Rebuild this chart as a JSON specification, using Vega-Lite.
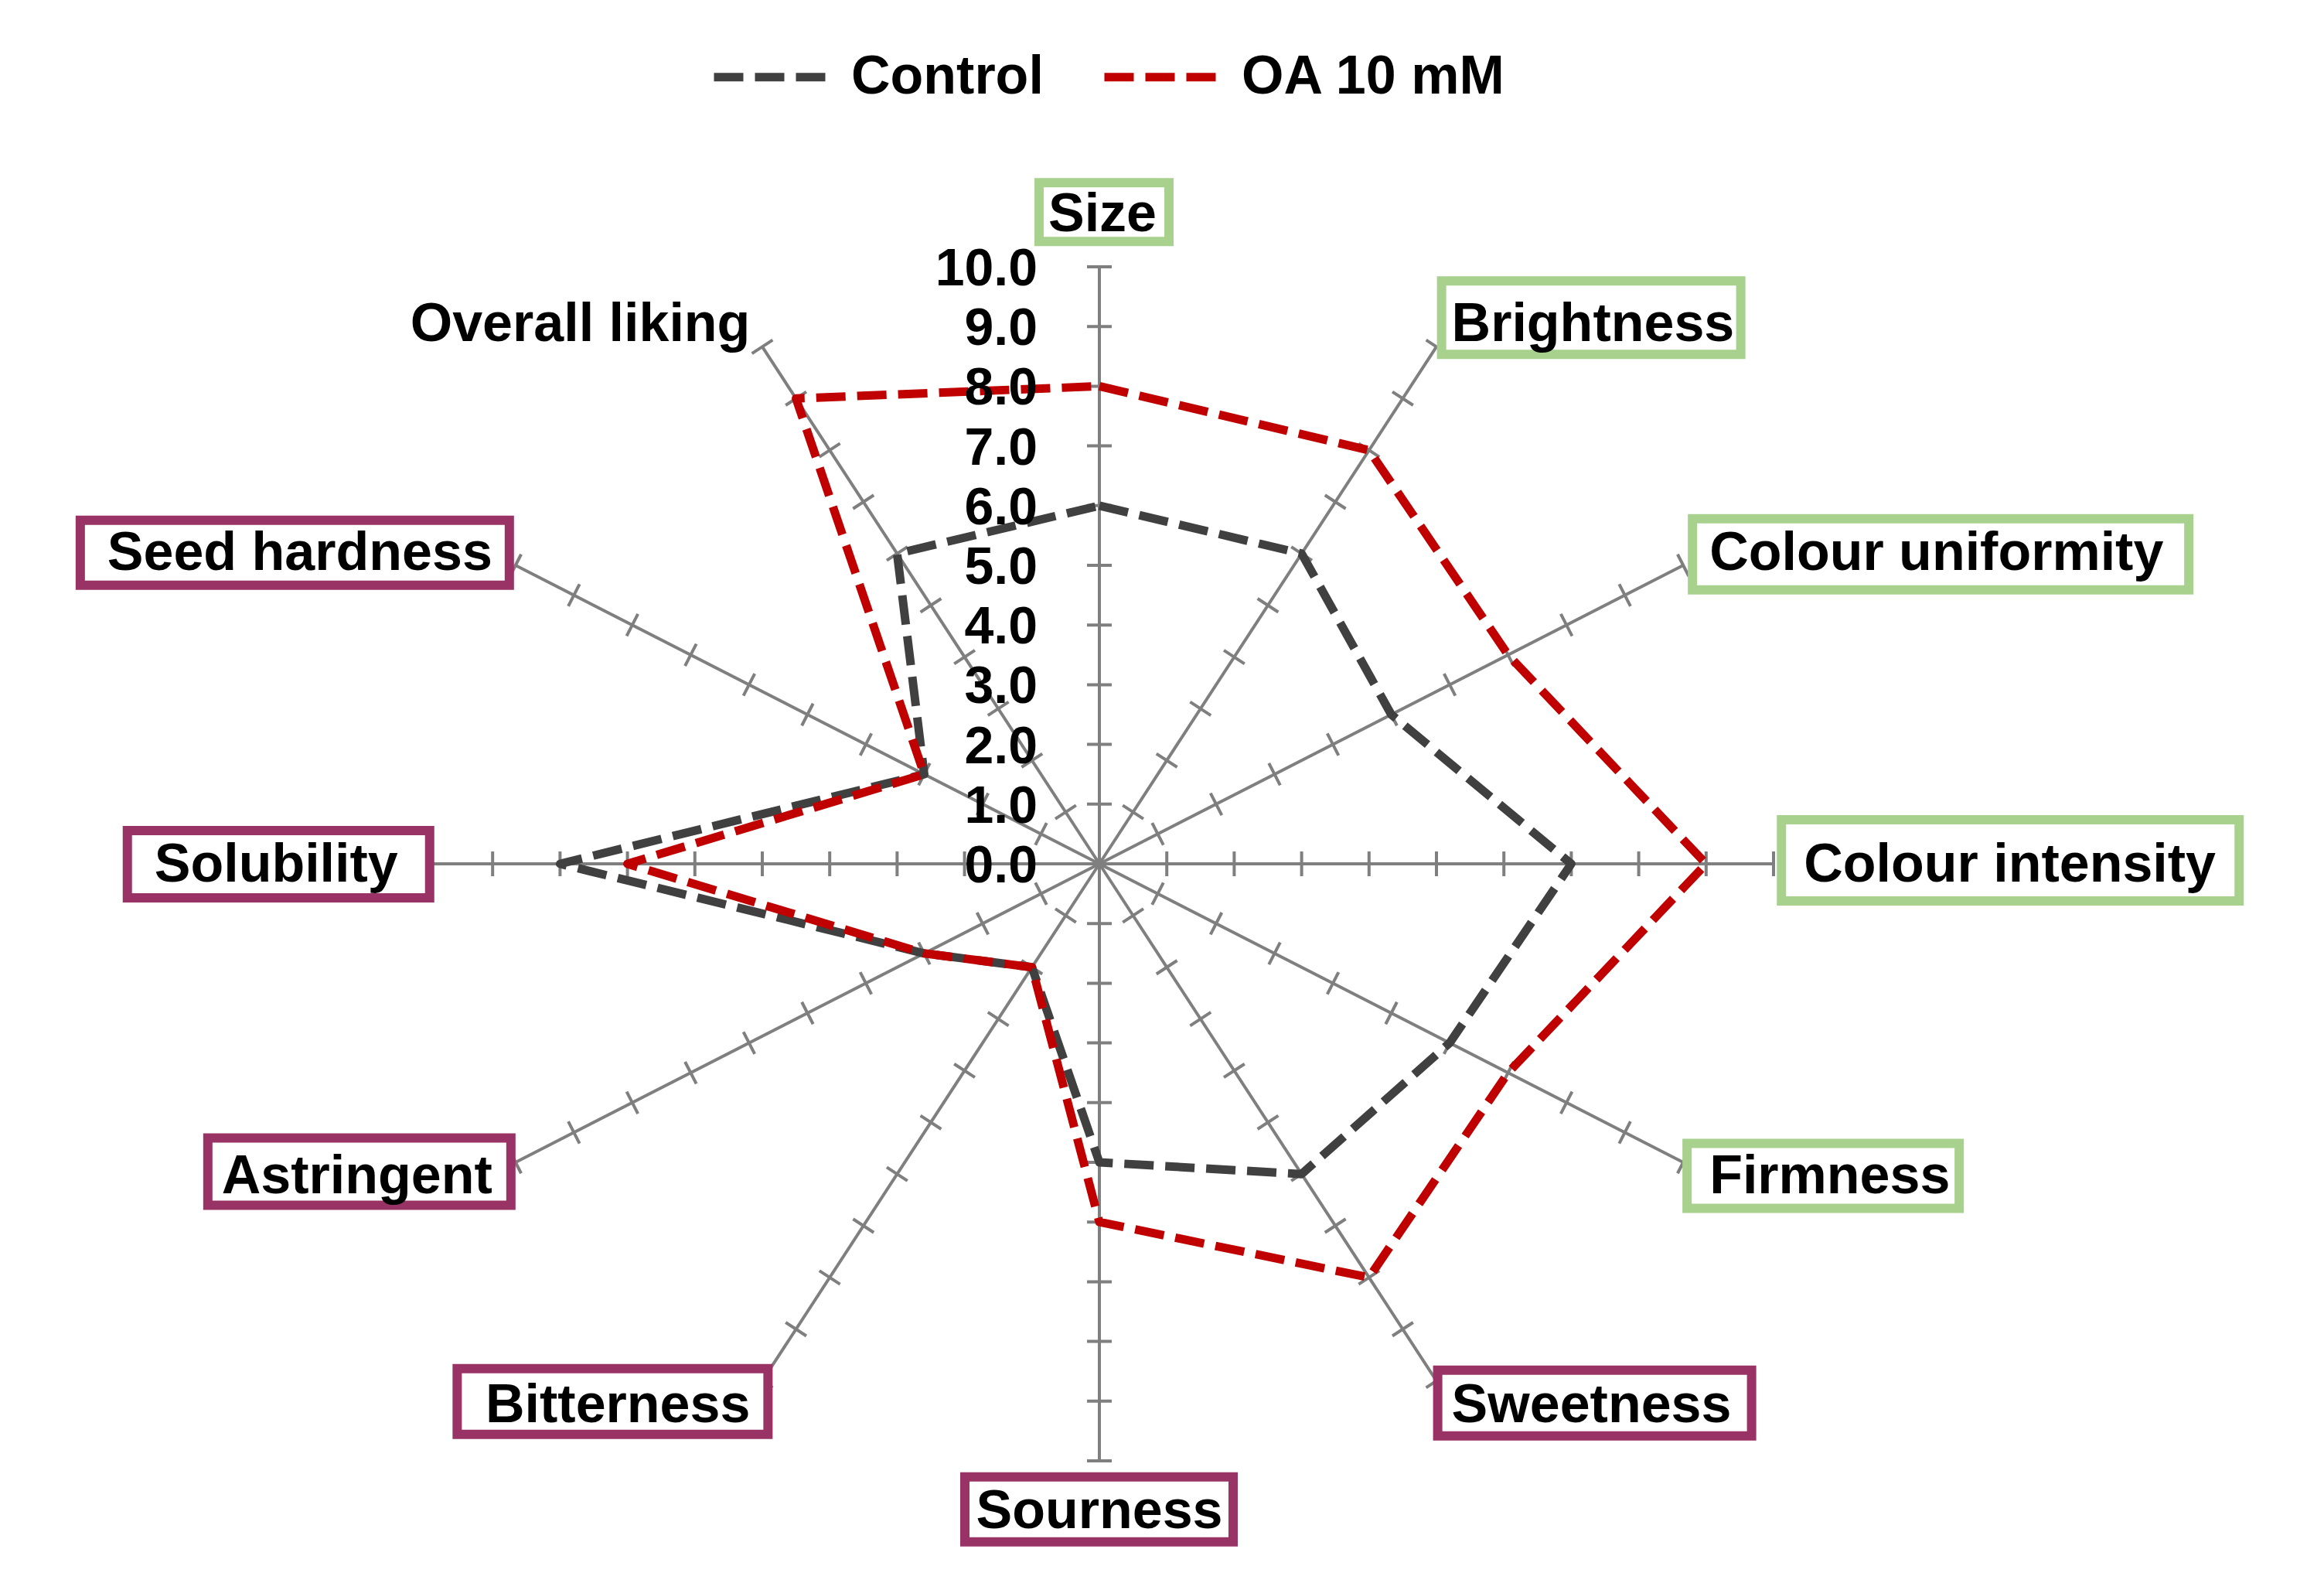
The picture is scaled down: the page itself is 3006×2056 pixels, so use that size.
{
  "$schema": "https://vega.github.io/schema/vega-lite/v6.json",
  "width": 3006,
  "height": 2056,
  "autosize": {"type": "none"},
  "padding": 0,
  "background": "white",
  "config": {"view": {"stroke": null}, "font": "Liberation Sans"},
  "datasets": {
    "attributes": [
      {"attribute": "Size", "idx": 0, "group": "appearance"},
      {"attribute": "Brightness", "idx": 1, "group": "appearance"},
      {"attribute": "Colour uniformity", "idx": 2, "group": "appearance"},
      {"attribute": "Colour intensity", "idx": 3, "group": "appearance"},
      {"attribute": "Firmness", "idx": 4, "group": "appearance"},
      {"attribute": "Sweetness", "idx": 5, "group": "sensory"},
      {"attribute": "Sourness", "idx": 6, "group": "sensory"},
      {"attribute": "Bitterness", "idx": 7, "group": "sensory"},
      {"attribute": "Astringent", "idx": 8, "group": "sensory"},
      {"attribute": "Solubility", "idx": 9, "group": "sensory"},
      {"attribute": "Seed hardness", "idx": 10, "group": "sensory"},
      {"attribute": "Overall liking", "idx": 11, "group": "overall"}
    ],
    "scores": [
      {"attribute": "Size", "series": "Control", "value": 6},
      {"attribute": "Brightness", "series": "Control", "value": 6},
      {"attribute": "Colour uniformity", "series": "Control", "value": 5},
      {"attribute": "Colour intensity", "series": "Control", "value": 7},
      {"attribute": "Firmness", "series": "Control", "value": 6},
      {"attribute": "Sweetness", "series": "Control", "value": 6},
      {"attribute": "Sourness", "series": "Control", "value": 5},
      {"attribute": "Bitterness", "series": "Control", "value": 2},
      {"attribute": "Astringent", "series": "Control", "value": 3},
      {"attribute": "Solubility", "series": "Control", "value": 8},
      {"attribute": "Seed hardness", "series": "Control", "value": 3},
      {"attribute": "Overall liking", "series": "Control", "value": 6},
      {"attribute": "Size", "series": "OA 10 mM", "value": 8},
      {"attribute": "Brightness", "series": "OA 10 mM", "value": 8},
      {"attribute": "Colour uniformity", "series": "OA 10 mM", "value": 7},
      {"attribute": "Colour intensity", "series": "OA 10 mM", "value": 9},
      {"attribute": "Firmness", "series": "OA 10 mM", "value": 7},
      {"attribute": "Sweetness", "series": "OA 10 mM", "value": 8},
      {"attribute": "Sourness", "series": "OA 10 mM", "value": 6},
      {"attribute": "Bitterness", "series": "OA 10 mM", "value": 2},
      {"attribute": "Astringent", "series": "OA 10 mM", "value": 3},
      {"attribute": "Solubility", "series": "OA 10 mM", "value": 7},
      {"attribute": "Seed hardness", "series": "OA 10 mM", "value": 3},
      {"attribute": "Overall liking", "series": "OA 10 mM", "value": 9}
    ],
    "levels": [
      {"level": 0}, {"level": 1}, {"level": 2}, {"level": 3}, {"level": 4}, {"level": 5},
      {"level": 6}, {"level": 7}, {"level": 8}, {"level": 9}, {"level": 10}
    ]
  },
  "layer": [
    {
      "data": {"name": "attributes"},
      "transform": [
        {"calculate": "PI/2 - datum.idx*PI/6", "as": "theta"},
        {"calculate": "0", "as": "ox"},
        {"calculate": "10*cos(datum.theta)", "as": "ex"},
        {"calculate": "10*sin(datum.theta)", "as": "ey"}
      ],
      "mark": {"type": "rule", "color": "#7f7f7f", "strokeWidth": 4},
      "encoding": {
        "x": {"field": "ox", "type": "quantitative", "axis": null, "scale": {"domain": [-16.307, 18.165], "nice": false, "zero": false}},
        "y": {"field": "ox", "type": "quantitative", "axis": null, "scale": {"domain": [-12.163, 14.469], "nice": false, "zero": false}},
        "x2": {"field": "ex"},
        "y2": {"field": "ey"}
      }
    },
    {
      "data": {"name": "attributes"},
      "transform": [
        {"impute": "fillv", "key": "level", "keyvals": [1, 2, 3, 4, 5, 6, 7, 8, 9, 10], "groupby": ["attribute", "idx"], "value": 1},
        {"filter": "isValid(datum.level)"},
        {"calculate": "PI/2 - datum.idx*PI/6", "as": "theta"},
        {"calculate": "datum.level*cos(datum.theta)", "as": "tx"},
        {"calculate": "datum.level*sin(datum.theta)", "as": "ty"},
        {"calculate": "atan2(-sin(datum.theta)*77.2, cos(datum.theta)*87.2)*180/PI", "as": "tang"}
      ],
      "mark": {"type": "point", "shape": "M0,-16V16", "size": 4, "filled": false, "stroke": "#7f7f7f", "strokeWidth": 4, "opacity": 1},
      "encoding": {
        "x": {"field": "tx", "type": "quantitative", "axis": null},
        "y": {"field": "ty", "type": "quantitative", "axis": null},
        "angle": {"field": "tang", "type": "quantitative", "scale": null}
      }
    },
    {
      "data": {"name": "attributes"},
      "transform": [
        {"filter": "datum.group != 'overall'"},
        {"calculate": "PI/2 - datum.idx*PI/6", "as": "theta"},
        {"calculate": "10.45*cos(datum.theta)", "as": "lx"},
        {"calculate": "10.45*sin(datum.theta)", "as": "ly"}
      ],
      "mark": {"type": "point", "size": 4, "filled": true, "fill": "white", "strokeWidth": 12, "opacity": 1},
      "encoding": {
        "x": {"field": "lx", "type": "quantitative", "axis": null},
        "y": {"field": "ly", "type": "quantitative", "axis": null},
        "shape": {
          "field": "attribute", "type": "nominal", "legend": null,
          "scale": {
            "domain": ["Size", "Brightness", "Colour uniformity", "Colour intensity", "Firmness", "Sweetness", "Sourness", "Bitterness", "Astringent", "Solubility", "Seed hardness"],
            "range": ["M-78,-74H90V2H-78Z", "M-13,-55H374V40H-13Z", "M-22,-43H620V49H-22Z", "M-29,-57H563V48H-29Z", "M-29,-42H323V42H-29Z", "M-18,-44H388V41H-18Z", "M-174,-14H173V70H-174Z", "M-375,-46H27V39H-375Z", "M-364,-49H28V38H-364Z", "M-346,-43H45V44H-346Z", "M-529,-41H26V43H-529Z"]
          }
        },
        "stroke": {"field": "group", "type": "nominal", "legend": null, "scale": {"domain": ["appearance", "sensory"], "range": ["#a9d18e", "#993366"]}}
      }
    },
    {
      "data": {"name": "attributes"},
      "transform": [
        {"filter": "datum.idx >= 1 && datum.idx <= 5"},
        {"calculate": "PI/2 - datum.idx*PI/6", "as": "theta"},
        {"calculate": "10.45*cos(datum.theta)", "as": "lx"},
        {"calculate": "10.45*sin(datum.theta)", "as": "ly"}
      ],
      "mark": {"type": "text", "align": "left", "baseline": "middle", "dx": 0, "dy": 2, "fontSize": 70, "fontWeight": "bold", "color": "black"},
      "encoding": {"x": {"field": "lx", "type": "quantitative", "axis": null}, "y": {"field": "ly", "type": "quantitative", "axis": null}, "text": {"field": "attribute", "type": "nominal"}}
    },
    {
      "data": {"name": "attributes"},
      "transform": [
        {"filter": "datum.idx >= 7"},
        {"calculate": "PI/2 - datum.idx*PI/6", "as": "theta"},
        {"calculate": "10.45*cos(datum.theta)", "as": "lx"},
        {"calculate": "10.45*sin(datum.theta)", "as": "ly"}
      ],
      "mark": {"type": "text", "align": "right", "baseline": "middle", "dx": 4, "dy": 2, "fontSize": 70, "fontWeight": "bold", "color": "black"},
      "encoding": {"x": {"field": "lx", "type": "quantitative", "axis": null}, "y": {"field": "ly", "type": "quantitative", "axis": null}, "text": {"field": "attribute", "type": "nominal"}}
    },
    {
      "data": {"name": "attributes"},
      "transform": [
        {"filter": "datum.idx == 0"},
        {"calculate": "PI/2 - datum.idx*PI/6", "as": "theta"},
        {"calculate": "10.45*cos(datum.theta)", "as": "lx"},
        {"calculate": "10.45*sin(datum.theta)", "as": "ly"}
      ],
      "mark": {"type": "text", "align": "center", "baseline": "middle", "dx": 4, "dy": -32, "fontSize": 70, "fontWeight": "bold", "color": "black"},
      "encoding": {"x": {"field": "lx", "type": "quantitative", "axis": null}, "y": {"field": "ly", "type": "quantitative", "axis": null}, "text": {"field": "attribute", "type": "nominal"}}
    },
    {
      "data": {"name": "attributes"},
      "transform": [
        {"filter": "datum.idx == 6"},
        {"calculate": "PI/2 - datum.idx*PI/6", "as": "theta"},
        {"calculate": "10.45*cos(datum.theta)", "as": "lx"},
        {"calculate": "10.45*sin(datum.theta)", "as": "ly"}
      ],
      "mark": {"type": "text", "align": "center", "baseline": "middle", "dx": 0, "dy": 31, "fontSize": 70, "fontWeight": "bold", "color": "black"},
      "encoding": {"x": {"field": "lx", "type": "quantitative", "axis": null}, "y": {"field": "ly", "type": "quantitative", "axis": null}, "text": {"field": "attribute", "type": "nominal"}}
    },
    {
      "data": {"name": "scores"},
      "transform": [
        {"lookup": "attribute", "from": {"data": {"name": "attributes"}, "key": "attribute", "fields": ["idx"]}},
        {"calculate": "PI/2 - datum.idx*PI/6", "as": "theta"},
        {"calculate": "datum.value*cos(datum.theta)", "as": "px"},
        {"calculate": "datum.value*sin(datum.theta)", "as": "py"}
      ],
      "mark": {"type": "line", "interpolate": "linear-closed", "strokeWidth": 11, "strokeDash": [38, 15], "strokeJoin": "round"},
      "encoding": {
        "x": {"field": "px", "type": "quantitative", "axis": null},
        "y": {"field": "py", "type": "quantitative", "axis": null},
        "order": {"field": "idx", "type": "quantitative"},
        "color": {
          "field": "series", "type": "nominal",
          "scale": {"domain": ["Control", "OA 10 mM"], "range": ["#404040", "#c00000"]},
          "legend": {
            "title": null, "orient": "none", "legendX": 918, "legendY": 20, "direction": "horizontal",
            "symbolType": "stroke", "symbolSize": 21904, "symbolStrokeWidth": 11, "symbolDash": [38, 15],
            "labelFontSize": 70, "labelFontWeight": "bold", "labelFont": "Liberation Sans", "labelColor": "black",
            "labelOffset": 24, "columnPadding": 56, "labelLimit": 1000, "padding": 0
          }
        }
      }
    },
    {
      "data": {"name": "levels"},
      "transform": [{"calculate": "0", "as": "ox"}],
      "mark": {"type": "text", "align": "right", "baseline": "middle", "dx": -80, "dy": 4, "fontSize": 68, "fontWeight": "bold", "color": "black"},
      "encoding": {
        "x": {"field": "ox", "type": "quantitative", "axis": null},
        "y": {"field": "level", "type": "quantitative", "axis": null},
        "text": {"field": "level", "type": "quantitative", "format": ".1f"}
      }
    }
  ]
}
